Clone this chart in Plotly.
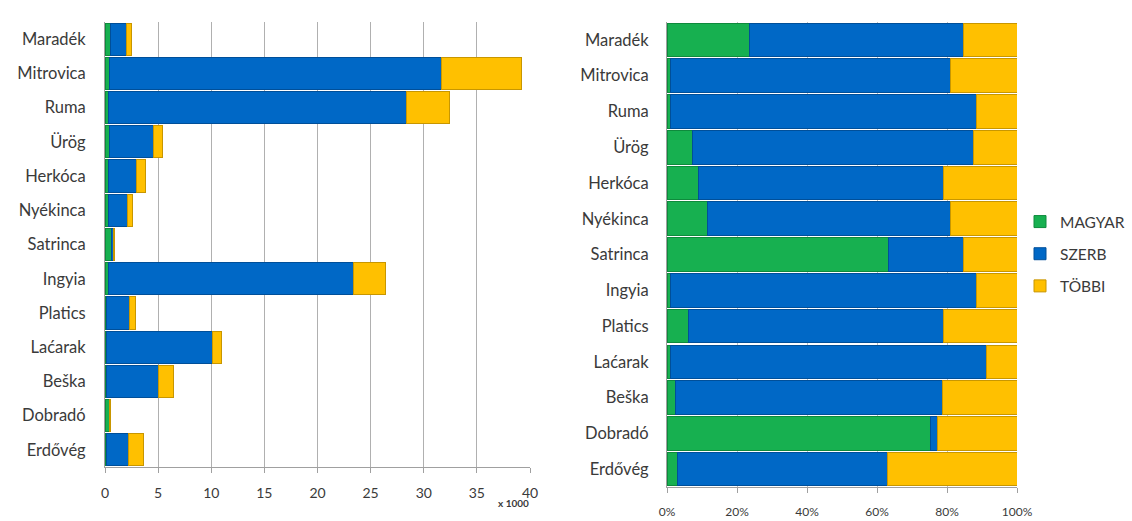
import plotly.graph_objects as go

# categories (top to bottom)
places = ["Maradék", "Mitrovica", "Ruma", "Ürög", "Herkóca", "Nyékinca", "Satrinca",
          "Ingyia", "Platics", "Laćarak", "Beška", "Dobradó", "Erdővég"]

# left chart: population in thousands
magyar_k = [0.55, 0.4, 0.3, 0.4, 0.35, 0.3, 0.57, 0.3, 0.17, 0.1, 0.15, 0.38, 0.1]
szerb_k = [1.5, 31.3, 28.1, 4.2, 2.6, 1.8, 0.19, 23.1, 2.1, 10.0, 4.85, 0.01, 2.1]
tobbi_k = [0.4, 7.5, 4.0, 0.8, 0.85, 0.5, 0.14, 3.0, 0.6, 0.9, 1.4, 0.11, 1.4]

# right chart: shares in percent
magyar_pct = [23.7, 1.0, 1.0, 7.4, 8.9, 11.7, 63.4, 1.0, 6.0, 1.0, 2.3, 75.4, 2.9]
szerb_pct = [60.9, 79.9, 87.3, 80.3, 70.0, 69.4, 21.2, 87.3, 72.9, 90.4, 76.3, 2.0, 60.2]
tobbi_pct = [15.4, 19.1, 11.7, 12.3, 21.1, 18.9, 15.4, 11.7, 21.1, 8.6, 21.4, 22.6, 36.9]

series = ["MAGYAR", "SZERB", "TÖBBI"]
colors = ["#17B050", "#0068C6", "#FFC000"]
edge = ["#0E8A3C", "#004F99", "#C89600"]

left_x_ticks = [0, 5, 10, 15, 20, 25, 30, 35, 40]
right_x_ticks = [0, 20, 40, 60, 80, 100]
right_x_labels = ["0%", "20%", "40%", "60%", "80%", "100%"]

fig = go.Figure()
for name, vals, c, e in zip(series, [magyar_k, szerb_k, tobbi_k], colors, edge):
    fig.add_trace(go.Bar(y=places, x=vals, orientation="h", name=name,
                         marker=dict(color=c, line=dict(color=e, width=1)),
                         xaxis="x", yaxis="y", showlegend=False))
for name, vals, c, e in zip(series, [magyar_pct, szerb_pct, tobbi_pct], colors, edge):
    fig.add_trace(go.Bar(y=places, x=vals, orientation="h", name=name,
                         marker=dict(color=c, line=dict(color=e, width=1)),
                         xaxis="x2", yaxis="y2", legendgroup=name))

font = "Lato, Open Sans, sans-serif"
txt = "#3A3A3A"
fig.update_layout(
    width=1132, height=521,
    margin=dict(l=0, r=0, t=0, b=0, autoexpand=False),
    paper_bgcolor="white", plot_bgcolor="white",
    barmode="stack", bargap=0.06,
    font=dict(family=font, color=txt, size=14),
    xaxis=dict(domain=[105/1132, 530/1132], range=[0, 40], tickvals=left_x_ticks,
               showgrid=True, gridcolor="#B0B0B0", gridwidth=1, zeroline=False,
               showline=True, linecolor="#A0A0A0", ticks="outside", ticklen=5,
               tickcolor="#A0A0A0", tickfont=dict(size=14, color=txt),
               ticklabelstandoff=8, anchor="y", automargin=False),
    yaxis=dict(domain=[1-467/521, 1-22/521], categoryorder="array",
               categoryarray=places[::-1], showgrid=False, showline=True,
               linecolor="#A0A0A0", ticks="", ticklabelstandoff=15,
               tickfont=dict(size=16.5, color=txt), anchor="x", automargin=False),
    xaxis2=dict(domain=[667/1132, 1017/1132], range=[0, 100], tickvals=right_x_ticks,
                ticktext=right_x_labels, showgrid=True, gridcolor="#C0C0C0",
                zeroline=False, showline=True, linecolor="#A0A0A0", ticks="outside",
                ticklen=5, tickcolor="#A0A0A0", tickfont=dict(size=12, color=txt),
                ticklabelstandoff=9, anchor="y2", automargin=False),
    yaxis2=dict(domain=[1-487/521, 1-22/521], categoryorder="array",
                categoryarray=places[::-1], showgrid=False, showline=True,
                linecolor="#A0A0A0", ticks="", ticklabelstandoff=14,
                tickfont=dict(size=16.5, color=txt), anchor="x2", automargin=False),
    legend=dict(x=1020/1132, y=1-205/521, xanchor="left", yanchor="top",
                traceorder="grouped", tracegroupgap=9,
                font=dict(size=15.5, color=txt), itemwidth=30,
                bgcolor="rgba(0,0,0,0)"),
    annotations=[dict(text="<b>x 1000</b>", x=513/1132, y=1-511/521, xref="paper",
                      yref="paper", showarrow=False, font=dict(size=10, color=txt))],
)

fig.write_html("out.html")
